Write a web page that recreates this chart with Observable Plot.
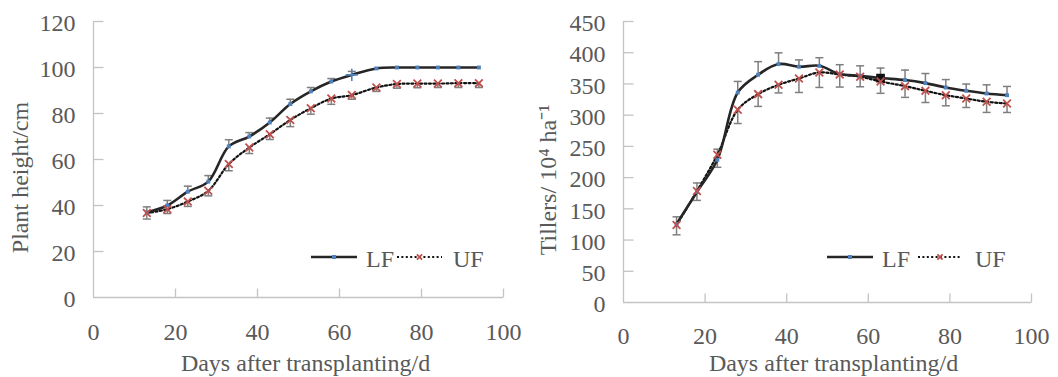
<!DOCTYPE html>
<html><head><meta charset="utf-8">
<script src="https://cdn.jsdelivr.net/npm/d3@7"></script>
<script src="https://cdn.jsdelivr.net/npm/@observablehq/plot@0.6"></script>
<style>
html,body{margin:0;padding:0;background:#fff;}
#wrap{display:flex;width:1058px;height:377px;overflow:hidden;}
.panel{position:relative;width:529px;height:377px;}
.panel svg.legend{position:absolute;left:0;top:0;pointer-events:none;}
.panel svg text{font-family:"Liberation Serif","Times New Roman",serif !important;}
</style></head>
<body><div id="wrap"><div class="panel" id="p1"></div><div class="panel" id="p2"></div></div>
<script>
// ---- data ----
const days = [13, 18, 23, 28, 33, 38, 43, 48, 53, 58, 63, 69, 74, 79, 84, 89, 94];
const seriesNames = ["LF", "UF"];
const heightLF    = [37.0, 40.0, 46.0, 50.4, 65.7, 70.0, 76.1, 84.1, 89.6, 93.9, 96.8, 99.6, 100, 100, 100, 100, 100];
const heightLFErr = [2.4, 2.2, 2.4, 2.6, 2.9, 1.7, 1.9, 2.1, 1.7, 1.3, 1.5, 0, 0, 0, 0, 0, 0];
const heightUF    = [36.7, 38.4, 41.7, 46.4, 58.0, 65.2, 71.0, 77.2, 82.3, 86.5, 88.0, 91.3, 92.8, 93.0, 93.0, 93.2, 93.2];
const heightUFErr = [2.6, 1.9, 2.1, 2.2, 2.9, 2.6, 2.3, 2.9, 2.6, 2.5, 1.8, 1.7, 1.8, 1.8, 1.7, 1.9, 1.9];
const tillersLF    = [125.6, 177, 228.5, 336.3, 364.7, 381.8, 377.5, 379, 365.8, 363, 359.4, 356.2, 351.3, 344.3, 339, 334.7, 332];
const tillersLFErr = [11.6, 14.4, 17, 17.7, 21, 18, 11, 13, 15, 16, 16, 16, 15.4, 12.7, 10.8, 13.9, 14];
const tillersUF    = [124, 178.5, 236.5, 308.6, 333.7, 348.6, 358.7, 368.4, 365, 361.5, 354, 346.5, 339, 332, 326.7, 321.4, 318.7];
const tillersUFErr = [15.6, 15, 20, 22, 19.7, 13, 22.4, 24, 20, 16, 19, 18, 18.7, 17, 14.4, 17, 14.4];
const oddMarkerDay = 63;
const xTicks = [0, 20, 40, 60, 80, 100];
const heightTicks = [0, 20, 40, 60, 80, 100, 120];
const tillerTicks = [0, 50, 100, 150, 200, 250, 300, 350, 400, 450];
const xLabel = "Days after transplanting/d";
const heightLabel = "Plant height/cm";
const tillerLabel = "Tillers/ 10\u2074 ha\u207B\u00B9";

// ---- style ----
const FONT = "'Liberation Serif', 'Times New Roman', serif";
const FS = 24;
const TEXT = "#595959";
const AXIS = "#c4c4c4";
const ERR = "#7f7f7f";
const BLUE = "#4f81bd";
const RED = "#c0504d";
const LINE = "#262626";

const tickRight = {draw(c) { c.moveTo(0, 0); c.lineTo(10, 0); }};
const tickUp = {draw(c) { c.moveTo(0, 0); c.lineTo(0, -9); }};
const capSym = {draw(c) { c.moveTo(-4, 0); c.lineTo(4, 0); }};

function makeChart(o) {
  const rows = days.map((d, i) => ({
    day: d, lf: o.lf[i], lfTop: o.lf[i] + o.lfErr[i], lfErr: o.lfErr[i],
    uf: o.uf[i], ufBot: o.uf[i] - o.ufErr[i], ufErr: o.ufErr[i]
  }));
  const lfBars = rows.filter(r => r.lfErr > 0);
  const ufBars = rows.filter(r => r.ufErr > 0);
  const normalLF = rows.filter(r => r.day !== oddMarkerDay);
  const oddLF = rows.filter(r => r.day === oddMarkerDay);
  return Plot.plot({
    width: 529, height: 377,
    marginLeft: o.marginLeft, marginRight: o.marginRight, marginTop: 21, marginBottom: o.marginBottom,
    style: {fontFamily: FONT, fontSize: FS + "px", color: TEXT, background: "white", overflow: "visible"},
    x: {domain: [0, 100], axis: null},
    y: {domain: [0, o.yTicks[o.yTicks.length - 1]], axis: null},
    marks: [
      Plot.ruleX([0], {stroke: AXIS, strokeWidth: 1.3}),
      Plot.ruleY([0], {stroke: AXIS, strokeWidth: 1.3}),
      Plot.dot(o.yTicks.slice(1), {y: d => d, frameAnchor: "left", symbol: tickRight, fill: "none", stroke: AXIS, strokeWidth: 1.3}),
      Plot.dot(xTicks.slice(1), {x: d => d, frameAnchor: "bottom", symbol: tickUp, fill: "none", stroke: AXIS, strokeWidth: 1.3}),
      // tick labels
      Plot.text(o.yTicks, {y: d => d, text: d => String(d), frameAnchor: "left", textAnchor: "end", lineAnchor: "middle", dx: -18, dy: 2, fill: TEXT, fontSize: FS}),
      Plot.text(xTicks, {x: d => d, text: d => String(d), frameAnchor: "bottom", textAnchor: "middle", lineAnchor: "middle", dy: o.xTickDy, fill: TEXT, fontSize: FS}),
      // axis titles
      Plot.text([o.yLabel], {text: d => d, frameAnchor: "left", textAnchor: "middle", lineAnchor: "middle", rotate: -90, dx: o.yLabelDx, dy: o.yLabelDy, fill: TEXT, fontSize: FS}),
      Plot.text([xLabel], {text: d => d, frameAnchor: "bottom", textAnchor: "middle", lineAnchor: "middle", dx: o.xLabelDx, dy: o.xLabelDy, fill: TEXT, fontSize: FS}),
      // error bars
      Plot.ruleX(lfBars, {x: "day", y1: "lf", y2: "lfTop", stroke: ERR, strokeWidth: 1.5}),
      Plot.dot(lfBars, {x: "day", y: "lfTop", symbol: capSym, fill: "none", stroke: ERR, strokeWidth: 1.5}),
      Plot.ruleX(ufBars, {x: "day", y1: "uf", y2: "ufBot", stroke: ERR, strokeWidth: 1.5}),
      Plot.dot(ufBars, {x: "day", y: "ufBot", symbol: capSym, fill: "none", stroke: ERR, strokeWidth: 1.5}),
      // lines
      Plot.line(rows, {x: "day", y: "uf", curve: "catmull-rom", stroke: "#111", strokeWidth: 2.2, strokeDasharray: "2 2.4"}),
      Plot.line(rows, {x: "day", y: "lf", curve: "catmull-rom", stroke: LINE, strokeWidth: 2.6}),
      // markers
      Plot.dot(normalLF, {x: "day", y: "lf", symbol: "square", r: 2.2, fill: BLUE}),
      Plot.dot(oddLF, {x: "day", y: "lf", symbol: o.oddSymbol, r: 4, fill: o.oddSymbol === "plus" ? "none" : "#111", stroke: o.oddSymbol === "plus" ? BLUE : "#111", strokeWidth: 1.6}),
      Plot.dot(rows, {x: "day", y: "uf", symbol: "times", r: 3.6, stroke: RED, strokeWidth: 1.8})
    ]
  });
}

function addLegend(panel, pos) {
  const svg = d3.select(panel).append("svg").attr("class", "legend")
    .attr("width", 529).attr("height", 377);
  const styles = [
    {stroke: LINE, width: 2.6, dash: null, marker: "square"},
    {stroke: "#111", width: 2.2, dash: "2 2.4", marker: "times"}
  ];
  seriesNames.forEach((name, i) => {
    const p = pos[i], s = styles[i];
    svg.append("line").attr("x1", p.x1).attr("x2", p.x2).attr("y1", pos.y).attr("y2", pos.y)
      .attr("stroke", s.stroke).attr("stroke-width", s.width).attr("stroke-dasharray", s.dash);
    const cx = (p.x1 + p.x2) / 2;
    if (s.marker === "square") {
      svg.append("rect").attr("x", cx - 2).attr("y", pos.y - 2).attr("width", 4).attr("height", 4).attr("fill", BLUE);
    } else {
      svg.append("path").attr("d", `M${cx-2.6},${pos.y-2.6}L${cx+2.6},${pos.y+2.6}M${cx-2.6},${pos.y+2.6}L${cx+2.6},${pos.y-2.6}`)
        .attr("stroke", RED).attr("stroke-width", 1.8);
    }
    svg.append("text").attr("x", p.tx).attr("y", pos.y + 10).text(name)
      .attr("fill", TEXT).attr("font-size", FS);
  });
}

const p1 = document.getElementById("p1");
p1.append(makeChart({
  lf: heightLF, lfErr: heightLFErr, uf: heightUF, ufErr: heightUFErr,
  yTicks: heightTicks, yLabel: heightLabel,
  marginLeft: 93, marginRight: 26, marginBottom: 80,
  yLabelDx: -73, yLabelDy: 18, xLabelDx: 7, xLabelDy: 66, xTickDy: 35, oddSymbol: "plus"
}));
addLegend(p1, Object.assign([{x1: 311, x2: 357, tx: 366}, {x1: 397, x2: 442, tx: 453}], {y: 257}));

const p2 = document.getElementById("p2");
p2.append(makeChart({
  lf: tillersLF, lfErr: tillersLFErr, uf: tillersUF, ufErr: tillersUFErr,
  yTicks: tillerTicks, yLabel: tillerLabel,
  marginLeft: 94, marginRight: 27, marginBottom: 75,
  yLabelDx: -75, yLabelDy: 18, xLabelDx: 6, xLabelDy: 61, xTickDy: 34, oddSymbol: "square"
}));
addLegend(p2, Object.assign([{x1: 298, x2: 344, tx: 353}, {x1: 389, x2: 433, tx: 446}], {y: 257}));
</script>
</body></html>
